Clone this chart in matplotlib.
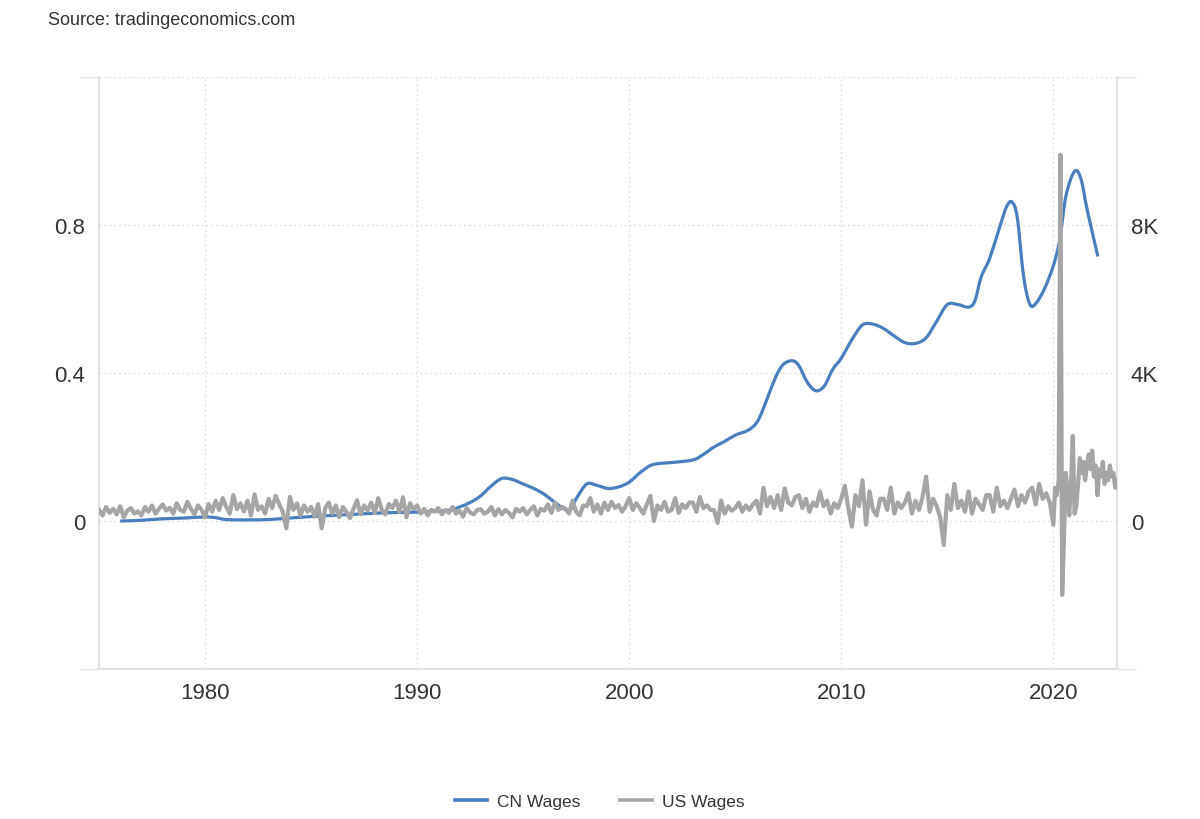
# plot.py
# CN Wages vs US Wages 双轴折线图
import matplotlib.pyplot as plt
import numpy as np
from matplotlib.ticker import FuncFormatter
from matplotlib.path import Path
from matplotlib.patches import PathPatch
from matplotlib.lines import Line2D

###########数据###########
# CN Wages（左轴）
cn_years = [1976.0, 1977.0, 1978.0, 1979.0, 1980.0, 1980.5, 1981.0, 1982.0, 1983.0, 1984.0,
            1985.0, 1986.0, 1987.0, 1988.0, 1989.0, 1990.0, 1991.0, 1991.6, 1992.0, 1992.5,
            1993.0, 1993.5, 1994.0, 1994.5, 1995.0, 1995.5, 1996.0, 1996.5, 1997.0, 1997.2,
            1997.5, 1998.0, 1998.5, 1999.0, 1999.5, 2000.0, 2000.5, 2001.0, 2001.5, 2002.0,
            2003.0, 2003.5, 2004.0, 2004.5, 2005.0, 2005.6, 2006.0, 2006.3, 2006.7, 2007.0,
            2007.3, 2007.7, 2008.0, 2008.4, 2008.8, 2009.2, 2009.6, 2010.0, 2010.5, 2011.0,
            2011.5, 2012.0, 2012.5, 2013.0, 2013.5, 2014.0, 2014.5, 2015.0, 2015.5, 2016.0,
            2016.3, 2016.6, 2017.0, 2017.5, 2017.8, 2018.05, 2018.3, 2018.6, 2018.9, 2019.2,
            2019.6, 2020.0, 2020.3, 2020.6, 2021.0, 2021.3, 2021.6, 2022.1]
cn_wages = [0.000, 0.002, 0.006, 0.008, 0.011, 0.009, 0.004, 0.003, 0.004, 0.008,
            0.012, 0.015, 0.018, 0.021, 0.023, 0.024, 0.027, 0.030, 0.038, 0.050,
            0.068, 0.095, 0.115, 0.112, 0.100, 0.088, 0.072, 0.050, 0.030, 0.028,
            0.060, 0.100, 0.096, 0.088, 0.092, 0.105, 0.130, 0.150, 0.156, 0.158,
            0.165, 0.180, 0.200, 0.215, 0.232, 0.245, 0.265, 0.300, 0.360, 0.400,
            0.425, 0.433, 0.420, 0.375, 0.352, 0.365, 0.410, 0.440, 0.490, 0.530,
            0.532, 0.520, 0.500, 0.482, 0.480, 0.495, 0.540, 0.585, 0.585, 0.578,
            0.595, 0.660, 0.710, 0.800, 0.850, 0.862, 0.820, 0.660, 0.585, 0.590,
            0.630, 0.690, 0.760, 0.880, 0.945, 0.925, 0.840, 0.715]

# US Wages（右轴），1975-2019 每两个月一个值
us_bimonthly = [
    300, 150, 380, 220, 330, 180,    400, 100, 280, 350, 200, 260,    # 1975-1976
    150, 380, 250, 420, 200, 330,    450, 280, 360, 200, 480, 300,    # 1977-1978
    250, 520, 330, 180, 420, 300,    100, 460, 250, 550, 300, 620,    # 1979-1980
    380, 200, 700, 320, 480, 260,    550, 150, 720, 300, 400, 200,    # 1981-1982
    600, 350, 680, 450, 250, -200,   650, 300, 480, 150, 420, 250,    # 1983-1984
    380, 120, 460, -200, 350, 500,   200, 420, 100, 380, 250, 80,     # 1985-1986
    330, 560, 180, 420, 280, 500,    220, 620, 300, 180, 460, 350,    # 1987-1988
    550, 250, 640, 100, 480, 320,    420, 200, 330, 150, 300, 250,    # 1989-1990
    350, 180, 300, 220, 380, 200,    280, 120, 350, 230, 180, 300,    # 1991-1992
    320, 200, 250, 380, 150, 320,    180, 300, 220, 100, 330, 250,    # 1993-1994
    350, 180, 300, 400, 150, 330,    280, 450, 220, 500, 300, 380,    # 1995-1996
    330, 200, 550, 250, 150, 420,    400, 620, 250, 450, 200, 500,    # 1997-1998
    300, 520, 350, 430, 250, 400,    620, 300, 480, 350, 200, 450,    # 1999-2000
    680, 0, 420, 300, 520, 250,      300, 620, 220, 450, 350, 500,    # 2001-2002
    500, 250, 650, 350, 420, 300,    300, -50, 550, 200, 400, 280,    # 2003-2004
    350, 500, 250, 420, 300, 450,    550, 200, 900, 400, 650, 350,    # 2005-2006
    700, 300, 880, 500, 420, 650,    700, 350, 600, 250, 500, 400,    # 2007-2008
    800, 400, 550, 200, 480, 350,    600, 950, 350, -150, 700, 400,   # 2009-2010
    1100, -100, 800, 300, 150, 600,  600, 300, 900, 200, 500, 350,    # 2011-2012
    500, 750, 200, 550, 300, 650,    1200, 250, 600, 400, 100, -650,  # 2013-2014
    700, 300, 1000, 350, 550, 250,   800, 200, 600, 450, 300, 700,    # 2015-2016
    700, 250, 900, 400, 550, 350,    600, 850, 400, 700, 500, 800,    # 2017-2018
    900, 450, 1000, 600, 750, 500,                                    # 2019
]
# 2020-2023 按月
us_monthly = [-100, 900, 700, 1100, 9900, -2000, -500, 1300, 900, 150, 1000, 2300,
              200, 400, 1000, 1700, 1300, 1600, 1100, 1500, 1800, 1400, 1900, 1200,
              1500, 700, 1400, 1200, 1600, 1000, 1300, 1100, 1500, 1200, 1300, 900,
              1100]

us_years = list(1975 + np.arange(len(us_bimonthly)) / 6) + list(2020 + np.arange(len(us_monthly)) / 12)
us_wages = us_bimonthly + us_monthly

decades = [1980, 1990, 2000, 2010, 2020]
left_ticks = [0, 0.4, 0.8]
right_ticks = [0, 4000, 8000]

###########函数定义###########
def spline_path(xs, ys):# 平滑曲线（Catmull-Rom 转贝塞尔）
    pts = np.column_stack([xs, ys])
    n = len(pts)
    verts = [pts[0]]
    codes = [Path.MOVETO]
    for i in range(n - 1):
        p0 = pts[max(i - 1, 0)]
        p1 = pts[i]
        p2 = pts[i + 1]
        p3 = pts[min(i + 2, n - 1)]
        verts += [p1 + (p2 - p0) / 6, p2 - (p3 - p1) / 6, p2]
        codes += [Path.CURVE4] * 3
    return Path(verts, codes)

###########绘图###########
plt.rcParams['font.family'] = ['Liberation Sans', 'DejaVu Sans']
blue = '#4a7fbf'
gray = '#a5a5a5'
light = '#e1e1e1'
txt = '#333333'

fig = plt.figure(figsize=(12, 8.2), dpi=100)
ax = fig.add_axes([0.0825, 0.1829, 0.8483, 0.722])
ax2 = ax.twinx()

ax.add_patch(PathPatch(spline_path(cn_years, cn_wages), facecolor='none', edgecolor=blue,
                       lw=2.3, capstyle='butt', zorder=2))
ax2.plot(us_years, us_wages, color=gray, lw=3.0, solid_joinstyle='round', zorder=3)

ax.set_xlim(1975.0, 2023.0)
ax.set_ylim(-0.4, 1.2)
ax2.set_ylim(-4000, 12000)

# 网格线
for y in [0, 0.4, 0.8, 1.2]:
    ax.axhline(y, color=light, lw=1, ls=(0, (1.5, 2)), zorder=0)
for x in decades:
    ax.axvline(x, color=light, lw=1, ls=(0, (1.5, 2)), zorder=0)

ax.set_xticks(decades)
ax.set_xticklabels([str(d) for d in decades])
ax.set_yticks(left_ticks)
ax.set_yticklabels(['0', '0.4', '0.8'])
ax2.set_yticks(right_ticks)
ax2.yaxis.set_major_formatter(FuncFormatter(lambda v, p: '0' if v == 0 else '%dK' % (v / 1000)))

ax.set_yticks([-0.4, 1.2], minor=True)
ax2.set_yticks([-4000, 12000], minor=True)
ax.tick_params(axis='x', length=0, pad=9, labelsize=16, colors=txt)
ax.tick_params(axis='y', which='major', length=0, pad=10, labelsize=16, colors=txt)
ax.tick_params(axis='y', which='minor', length=14, width=1, color=light)
ax2.tick_params(axis='y', which='major', length=0, pad=10, labelsize=16, colors=txt)
ax2.tick_params(axis='y', which='minor', length=14, width=1, color=light)

for a in (ax, ax2):
    for s in a.spines.values():
        s.set_color(light)
        s.set_linewidth(1.2)
    a.spines['top'].set_visible(False)

fig.text(0.04, 0.975, 'Source: tradingeconomics.com', fontsize=13, color=txt, va='center')
handles = [Line2D([], [], color=blue, lw=2.6), Line2D([], [], color=gray, lw=2.6)]
fig.legend(handles, ['CN Wages', 'US Wages'], loc='center', bbox_to_anchor=(0.5, 0.021), ncol=2,
           frameon=False, fontsize=12.5, handlelength=1.8, handletextpad=0.6, columnspacing=2.3,
           labelcolor=txt)

fig.savefig('out.png', dpi=100)
